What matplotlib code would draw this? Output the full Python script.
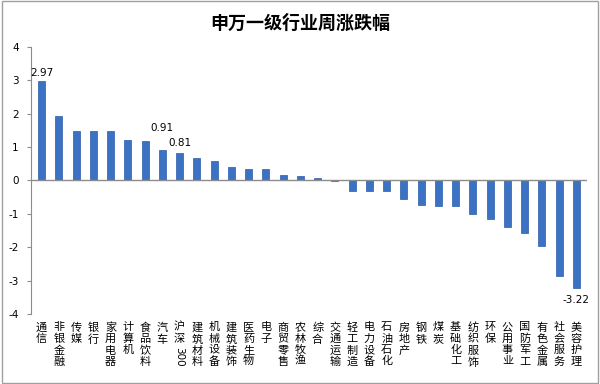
import matplotlib
matplotlib.use('Agg')
import matplotlib.pyplot as plt
import numpy as np

plt.rcParams['font.family'] = ['Noto Sans CJK SC', 'DejaVu Sans']

industries = ['通信', '非银金融', '传媒', '银行', '家用电器', '计算机', '食品饮料', '汽车',
              '沪深300', '建筑材料', '机械设备', '建筑装饰', '医药生物', '电子', '商贸零售',
              '农林牧渔', '综合', '交通运输', '轻工制造', '电力设备', '石油石化', '房地产',
              '钢铁', '煤炭', '基础化工', '纺织服饰', '环保', '公用事业', '国防军工',
              '有色金属', '社会服务', '美容护理']
changes = [2.97, 1.93, 1.48, 1.48, 1.48, 1.21, 1.18, 0.91,
           0.81, 0.66, 0.58, 0.41, 0.33, 0.33, 0.16,
           0.12, 0.08, -0.02, -0.30, -0.30, -0.32, -0.55,
           -0.73, -0.75, -0.77, -1.00, -1.15, -1.38, -1.57,
           -1.97, -2.85, -3.22]
# labelled bars and how far above/below the bar end the label sits (points)
label_offsets = {'通信': 2, '汽车': 12, '沪深300': 4, '美容护理': -5}
yticks = [-4, -3, -2, -1, 0, 1, 2, 3, 4]

fig = plt.figure(figsize=(6, 3.84), dpi=100)
ax = fig.add_axes([0.052, 0.182, 0.926, 0.696])

x = np.arange(len(industries))
ax.bar(x, changes, width=0.4, color='#3b72c4', edgecolor='#2a5ca8', linewidth=0.5, zorder=2)
ax.axhline(0, color='#8c8c8c', linewidth=1, zorder=3)

for i, (name, v) in enumerate(zip(industries, changes)):
    if name in label_offsets:
        off = label_offsets[name]
        ax.annotate(f'{v:.2f}', xy=(i, v), xytext=(0, off), textcoords='offset points',
                    ha='center', va='bottom' if off > 0 else 'top', fontsize=7.5,
                    family='DejaVu Sans')
    if name == '沪深300':
        ax.annotate('沪\n深', xy=(i, -4), xytext=(0, -6), textcoords='offset points',
                    ha='center', va='top', fontsize=8, linespacing=1.15, annotation_clip=False)
        ax.annotate('300', xy=(i, -4), xytext=(0, -24), textcoords='offset points',
                    ha='center', va='top', fontsize=7.5, rotation=-90,
                    family='DejaVu Sans', annotation_clip=False)
    else:
        ax.annotate('\n'.join(name), xy=(i, -4), xytext=(0, -6), textcoords='offset points',
                    ha='center', va='top', fontsize=8, linespacing=1.15, annotation_clip=False)

ax.set_xlim(-0.6, len(industries) - 0.4)
ax.set_ylim(-4, 4)
ax.set_yticks(yticks)
ax.set_yticklabels([str(t) for t in yticks], family='DejaVu Sans', fontsize=7.5)
ax.set_xticks([])
for s in ['top', 'right', 'bottom']:
    ax.spines[s].set_visible(False)
ax.spines['left'].set_color('#8c8c8c')
ax.tick_params(axis='y', length=3, color='#8c8c8c', pad=6)

fig.text(0.5, 0.94, '申万一级行业周涨跌幅', ha='center', va='center', fontsize=13, fontweight='bold')

# chart border
fig.patches.append(plt.Rectangle((0.003, 0.003), 0.994, 0.994, transform=fig.transFigure,
                                 fill=False, edgecolor='#a0a0a0', linewidth=1))

fig.savefig('out.png', dpi=100)
